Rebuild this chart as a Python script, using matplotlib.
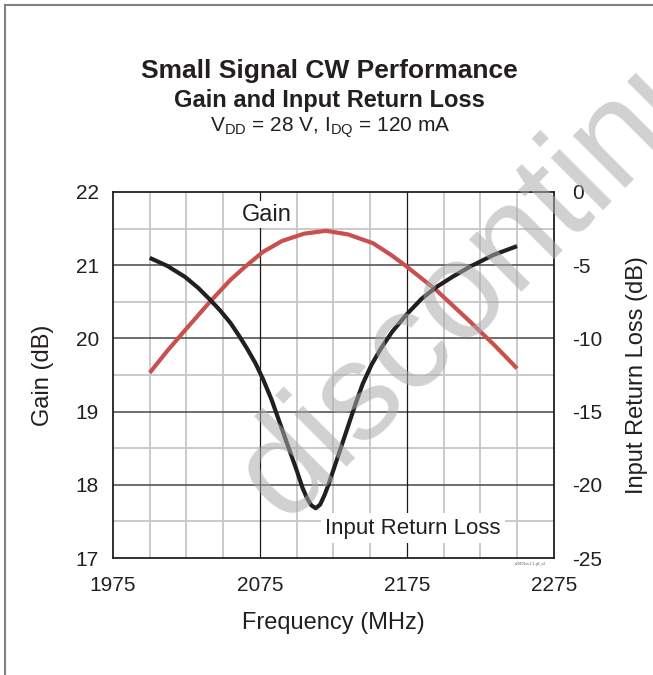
import numpy as np
import matplotlib.pyplot as plt
from matplotlib.lines import Line2D

plt.rcParams['font.family'] = ['Liberation Sans', 'DejaVu Sans']
plt.rcParams['axes.unicode_minus'] = False

# values
gain_freq = [2000, 2012, 2024, 2041, 2055, 2065, 2077, 2090, 2105, 2120,
             2135, 2152, 2165, 2175, 2195, 2218, 2235, 2250]
gain_db = [19.53, 19.83, 20.11, 20.50, 20.80, 20.98, 21.18, 21.33, 21.43, 21.47,
           21.42, 21.30, 21.13, 20.98, 20.66, 20.23, 19.90, 19.59]

irl_freq = [2000, 2012, 2024, 2033, 2041, 2048, 2055, 2061, 2066, 2072, 2077, 2083,
            2089, 2095, 2100, 2104, 2107, 2110, 2113, 2116, 2119, 2122, 2125, 2130,
            2135, 2140, 2145, 2151, 2157, 2165, 2175, 2185, 2195, 2206, 2218, 2234, 2250]
irl_db = [-4.5, -5.05, -5.8, -6.55, -7.35, -8.1, -8.95, -9.85, -10.65, -11.7, -12.75, -14.2,
          -15.9, -17.6, -19.0, -20.2, -20.9, -21.4, -21.6, -21.35, -20.7, -19.9, -19.0, -17.5,
          -16.0, -14.5, -13.1, -11.8, -10.75, -9.55, -8.35, -7.3, -6.5, -5.8, -5.1, -4.3, -3.7]

x_ticks = [1975, 2075, 2175, 2275]
gain_ticks = [17, 18, 19, 20, 21, 22]
irl_ticks = [-25, -20, -15, -10, -5, 0]

fig = plt.figure(figsize=(6.53, 6.75), dpi=100)
ax = fig.add_axes([0.173, 0.1733, 0.675, 0.5423])

# grid: light every 25 MHz / 0.5 dB, darker at the labelled values
for f in np.arange(2000, 2275, 25):
    if f not in x_ticks:
        ax.axvline(f, color='#c6c6c6', lw=1.3, zorder=1)
for f in [2075, 2175]:
    ax.axvline(f, color='#1a1a1a', lw=0.9, zorder=1.2)
for g in np.arange(17.5, 22, 1.0):
    ax.axhline(g, color='#c6c6c6', lw=1.3, zorder=1)
for g in [18, 19, 20, 21]:
    ax.axhline(g, color='#555555', lw=1.2, zorder=1.1)

ax.plot(gain_freq, gain_db, color='#c9504f', lw=3, solid_capstyle='butt',
        solid_joinstyle='round', zorder=3)
ax.set_xlim(1975, 2275)
ax.set_ylim(17, 22)
ax.set_xticks(x_ticks)
ax.set_yticks(gain_ticks)
ax.tick_params(length=0, labelsize=15, colors='#231f20')
ax.tick_params(axis='y', pad=10)
ax.tick_params(axis='x', pad=13)
for s in ax.spines.values():
    s.set_linewidth(1.3)
    s.set_color('#231f20')
ax.set_xlabel('Frequency (MHz)', fontsize=17, labelpad=12, color='#231f20')
ax.set_ylabel('Gain (dB)', fontsize=17, labelpad=16, color='#231f20')

ax2 = ax.twinx()
ax2.plot(irl_freq, irl_db, color='#231f20', lw=3, solid_capstyle='butt',
         solid_joinstyle='round', zorder=3)
ax2.set_ylim(-25, 0)
ax2.set_yticks(irl_ticks)
ax2.tick_params(length=0, labelsize=15, pad=13, colors='#231f20')
for s in ax2.spines.values():
    s.set_visible(False)
ax2.set_ylabel('Input Return Loss (dB)', fontsize=17, labelpad=17, color='#231f20')

ax2.text(2080, -1.55, 'Gain', fontsize=17, ha='center', va='center', color='#231f20',
         bbox=dict(facecolor='white', edgecolor='none', pad=2), zorder=5)
ax2.text(2179, -22.95, 'Input Return Loss', fontsize=16, ha='center', va='center',
         color='#231f20', bbox=dict(facecolor='white', edgecolor='none', pad=3), zorder=5)
ax2.text(2270, -25.3, 'c29101m-2.1-g6_v2', fontsize=2.5, ha='right', va='top', color='#555555')

fig.text(0.505, 0.884, 'Small Signal CW Performance', fontsize=19, fontweight='bold',
         ha='center', va='baseline', color='#231f20')
fig.text(0.505, 0.842, 'Gain and Input Return Loss', fontsize=17, fontweight='bold',
         ha='center', va='baseline', color='#231f20')
fig.text(0.505, 0.806, r'V$_{\mathregular{DD}}$ = 28 V, I$_{\mathregular{DQ}}$ = 120 mA',
         fontsize=15, ha='center', va='baseline', color='#231f20')

# watermark
fig.text(0.436, 0.225, 'discontinued', fontsize=100, rotation=45, rotation_mode='anchor',
         ha='left', va='baseline', color='#ababab', alpha=0.55, zorder=10)

# page border
fig.add_artist(Line2D([0.007, 0.007], [0, 0.993], color='#808080', lw=1.5))
fig.add_artist(Line2D([0.007, 1], [0.993, 0.993], color='#808080', lw=1.5))

fig.savefig('out.png', dpi=100)
